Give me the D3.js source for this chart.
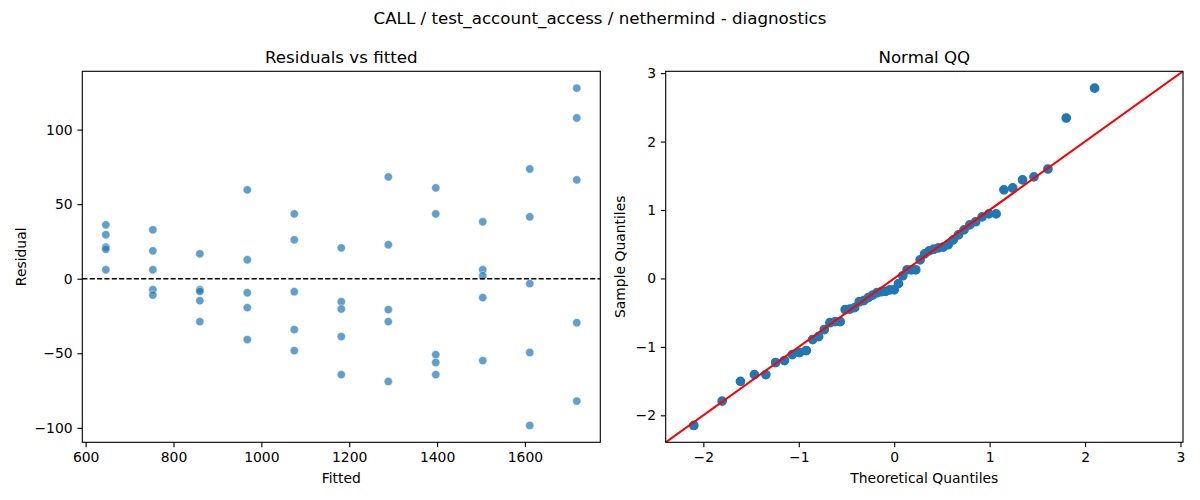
<!DOCTYPE html>
<html>
<head>
<meta charset="utf-8">
<script src="https://cdn.jsdelivr.net/npm/d3@7"></script>
<style>
  html, body { margin: 0; padding: 0; background: #fff; }
  svg { display: block; font-family: "DejaVu Sans", sans-serif; }
</style>
</head>
<body>
<div id="chart"></div>
<script>
// Fitted value of each group (x of the residual columns)
const fitted = [646, 753, 860, 968, 1075, 1182, 1289, 1397, 1504, 1611, 1718];

// Residuals of the 5 runs in each fitted group
const residuals = [
  [36.1, 29.5, 21.2, 19.8, 6.0],
  [32.8, 18.7, 6.0, -7.4, -11.0],
  [16.7, -7.4, -8.5, -14.7, -28.8],
  [59.6, 12.7, -9.4, -19.4, -40.8],
  [43.5, 26.1, -8.7, -34.1, -48.2],
  [20.7, -15.4, -20.3, -38.8, -64.3],
  [68.3, 22.8, -20.7, -28.8, -68.9],
  [60.9, 43.5, -50.9, -56.2, -64.3],
  [38.2, 6.0, 2.0, -12.7, -54.9],
  [73.6, 41.5, -3.3, -49.5, -98.4],
  [127.8, 107.8, 66.3, -29.5, -82.1]
];

// Normal QQ points
const theoretical = [-2.100, -1.803, -1.611, -1.465, -1.345, -1.242, -1.150, -1.068, -0.992, -0.921,
  -0.854, -0.792, -0.732, -0.674, -0.619, -0.566, -0.514, -0.464, -0.414, -0.366,
  -0.319, -0.272, -0.226, -0.180, -0.135, -0.090, -0.045, 0, 0.045, 0.090,
  0.135, 0.180, 0.226, 0.272, 0.319, 0.366, 0.414, 0.464, 0.514, 0.566,
  0.619, 0.674, 0.732, 0.792, 0.854, 0.921, 0.992, 1.068, 1.150, 1.242,
  1.345, 1.465, 1.611, 1.803, 2.100];
const sample = [-2.148, -1.793, -1.505, -1.405, -1.405, -1.229, -1.200, -1.113, -1.083, -1.054,
  -0.893, -0.850, -0.747, -0.647, -0.632, -0.632, -0.455, -0.447, -0.427, -0.340,
  -0.325, -0.281, -0.244, -0.209, -0.194, -0.190, -0.166, -0.166, -0.076, 0.039,
  0.126, 0.126, 0.126, 0.272, 0.359, 0.403, 0.427, 0.447, 0.458, 0.492,
  0.564, 0.638, 0.710, 0.782, 0.828, 0.900, 0.943, 0.943, 1.294, 1.322,
  1.440, 1.484, 1.599, 2.344, 2.780];

const fittedTicks = [600, 800, 1000, 1200, 1400, 1600];
const residTicks = [-100, -50, 0, 50, 100];
const qqTicks = [-2, -1, 0, 1, 2, 3];

const width = 1200;
const height = 500;
const axTop = 71.3, axBottom = 442.3;
const left1 = 82.3, right1 = 600.3;
const left2 = 665.7, right2 = 1183;
const tickLen = 4.86, tickPad = 4.86;
const fontSize = 13.9;
const blue = "#1f77b4";
const fmt = d3.format("d");

// matplotlib style 5% margins
function padded(ext) {
  const m = (ext[1] - ext[0]) * 0.05;
  return [ext[0] - m, ext[1] + m];
}

const points = fitted.flatMap((f, i) => residuals[i].map(r => ({ f, r })));
const qq = theoretical.map((t, i) => ({ t, s: sample[i] }));

const svg = d3.select("#chart").append("svg")
    .attr("width", width)
    .attr("height", height)
    .attr("viewBox", [0, 0, width, height]);

svg.append("text")
    .attr("x", width / 2)
    .attr("y", 24)
    .attr("text-anchor", "middle")
    .attr("font-size", 16.67)
    .text("CALL / test_account_access / nethermind - diagnostics");

function styleAxis(g) {
  g.select(".domain").remove();
  g.selectAll(".tick line").attr("stroke", "#000").attr("stroke-width", 1.11);
  g.selectAll(".tick text").attr("font-size", fontSize).attr("fill", "#000")
      .attr("font-family", "DejaVu Sans, sans-serif");
}

function panel(x, y, xTicks, yTicks, title, xLabel, yLabel, yLabelX) {
  const cx = (x.range()[0] + x.range()[1]) / 2;
  const cy = (axTop + axBottom) / 2;

  svg.append("g")
      .attr("transform", `translate(0,${axBottom})`)
      .call(d3.axisBottom(x).tickValues(xTicks).tickFormat(fmt).tickSize(tickLen).tickPadding(tickPad))
      .call(styleAxis);

  svg.append("g")
      .attr("transform", `translate(${x.range()[0]},0)`)
      .call(d3.axisLeft(y).tickValues(yTicks).tickFormat(fmt).tickSize(tickLen).tickPadding(tickPad))
      .call(styleAxis);

  svg.append("text")
      .attr("x", cx)
      .attr("y", 63)
      .attr("text-anchor", "middle")
      .attr("font-size", 16.67)
      .text(title);

  svg.append("text")
      .attr("x", cx)
      .attr("y", 483)
      .attr("text-anchor", "middle")
      .attr("font-size", fontSize)
      .text(xLabel);

  svg.append("text")
      .attr("transform", `translate(${yLabelX},${cy}) rotate(-90)`)
      .attr("text-anchor", "middle")
      .attr("font-size", fontSize)
      .text(yLabel);
}

function frame(x) {
  svg.append("rect")
      .attr("x", x.range()[0])
      .attr("y", axTop)
      .attr("width", x.range()[1] - x.range()[0])
      .attr("height", axBottom - axTop)
      .attr("fill", "none")
      .attr("stroke", "#000")
      .attr("stroke-width", 1.11);
}

// ---- Residuals vs fitted ----
const x1 = d3.scaleLinear()
    .domain(padded(d3.extent(points, d => d.f)))
    .range([left1, right1]);
const y1 = d3.scaleLinear()
    .domain(padded(d3.extent(points, d => d.r)))
    .range([axBottom, axTop]);

panel(x1, y1, fittedTicks, residTicks, "Residuals vs fitted", "Fitted", "Residual", 26);

svg.append("g")
    .attr("fill", blue)
    .attr("fill-opacity", 0.7)
    .attr("stroke", "#fff")
    .attr("stroke-opacity", 0.7)
    .attr("stroke-width", 0.67)
  .selectAll("circle")
  .data(points)
  .join("circle")
    .attr("cx", d => x1(d.f))
    .attr("cy", d => y1(d.r))
    .attr("r", 4.17);

svg.append("line")
    .attr("x1", left1)
    .attr("x2", right1)
    .attr("y1", y1(0))
    .attr("y2", y1(0))
    .attr("stroke", "#000")
    .attr("stroke-width", 1.39)
    .attr("stroke-dasharray", "5.14,2.22");

frame(x1);

// ---- Normal QQ ----
const qqExtent = padded([
  Math.min(d3.min(theoretical), d3.min(sample)),
  Math.max(d3.max(theoretical), d3.max(sample))
]);
const x2 = d3.scaleLinear().domain(qqExtent).range([left2, right2]);
const y2 = d3.scaleLinear().domain(qqExtent).range([axBottom, axTop]);

panel(x2, y2, qqTicks, qqTicks, "Normal QQ", "Theoretical Quantiles", "Sample Quantiles", 625);

svg.append("clipPath").attr("id", "clip2")
  .append("rect")
    .attr("x", left2).attr("y", axTop)
    .attr("width", right2 - left2).attr("height", axBottom - axTop);

svg.append("g")
    .attr("fill", blue)
    .attr("stroke", blue)
    .attr("stroke-width", 1.39)
  .selectAll("circle")
  .data(qq)
  .join("circle")
    .attr("cx", d => x2(d.t))
    .attr("cy", d => y2(d.s))
    .attr("r", 4.17);

svg.append("line")
    .attr("clip-path", "url(#clip2)")
    .attr("x1", x2(qqExtent[0]))
    .attr("y1", y2(qqExtent[0]))
    .attr("x2", x2(qqExtent[1]))
    .attr("y2", y2(qqExtent[1]))
    .attr("stroke", "red")
    .attr("stroke-width", 2.08);

frame(x2);
</script>
</body>
</html>
